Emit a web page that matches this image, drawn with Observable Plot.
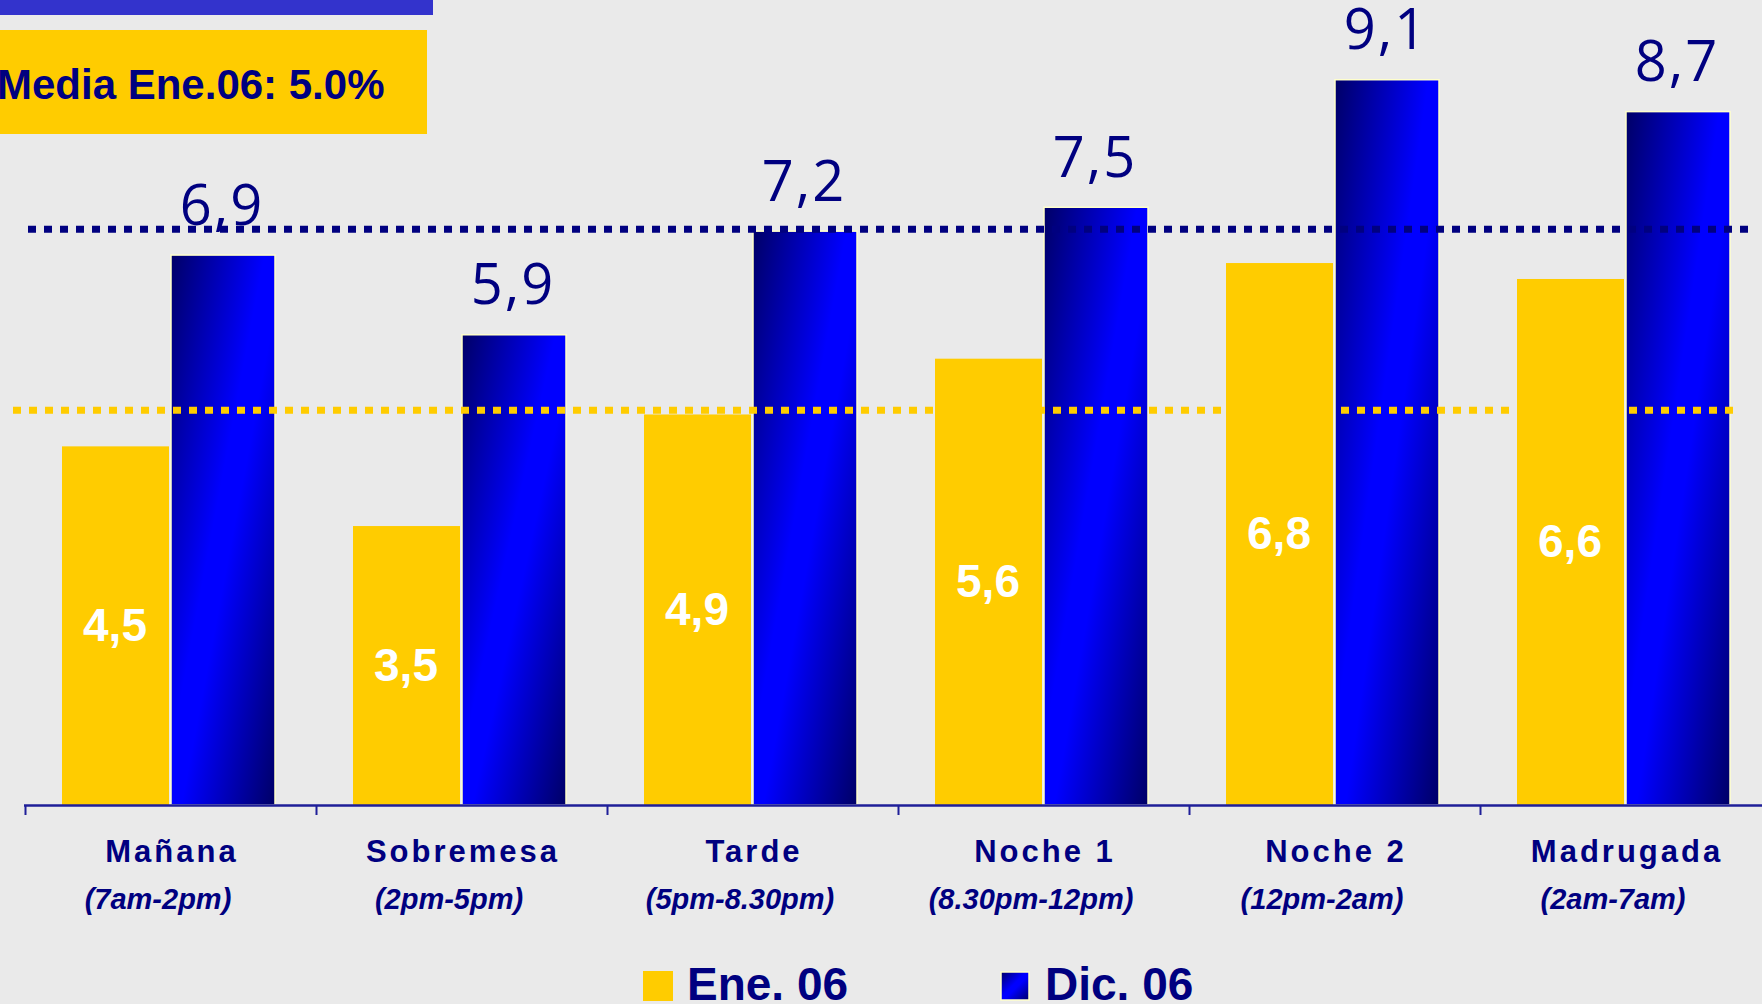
<!DOCTYPE html>
<html><head><meta charset="utf-8">
<script src="https://cdn.jsdelivr.net/npm/d3@7"></script>
<script src="https://cdn.jsdelivr.net/npm/@observablehq/plot@0.6"></script>
<style>
html,body{margin:0;padding:0;background:#EAEAEA;overflow:hidden;}
#chart{position:relative;width:1762px;height:1004px;}
svg{display:block;}
</style></head><body><div id="chart"></div>
<script>
const categories = ["Mañana", "Sobremesa", "Tarde", "Noche 1", "Noche 2", "Madrugada"];
const subtitles = ["(7am-2pm)", "(2pm-5pm)", "(5pm-8.30pm)", "(8.30pm-12pm)", "(12pm-2am)", "(2am-7am)"];
const ene06 = [4.5, 3.5, 4.9, 5.6, 6.8, 6.6];
const dic06 = [6.9, 5.9, 7.2, 7.5, 9.1, 8.7];
const mediaEne06 = 4.96;
const mediaDic06 = 7.23;
const seriesNames = ["Ene. 06", "Dic. 06"];

const rows = categories.map((c, i) => ({cat: c, sub: subtitles[i], ene: ene06[i], dic: dic06[i]}));
const fmt = v => d3.format(".1f")(v).replace(".", ",");

const NAVY = "#000080", YELLOW = "#FFCC00", AXIS = "#1F1F99";
const W = 1762, H = 1004, bw = 291;
const BOLD = "'Liberation Sans', Arial, sans-serif";

const svg = Plot.plot({
  width: W, height: H, margin: 0,
  style: {background: "transparent", overflow: "visible"},
  x: {type: "band", domain: categories, range: [25, 25 + 6 * bw], padding: 0, axis: null},
  y: {domain: [0, 10], range: [805, 8], axis: null},
  marks: [
    Plot.barY(rows, {x: "cat", y: "ene", fill: YELLOW, insetLeft: 37, insetRight: 147}),
    Plot.barY(rows, {x: "cat", y: "dic", fill: "url(#gradDic)", stroke: "#FFFFCC", strokeWidth: 1.5, insetLeft: 146, insetRight: 41}),
    Plot.ruleY([mediaEne06], {stroke: YELLOW, strokeWidth: 7, strokeDasharray: "8,8", insetLeft: 13, insetRight: 29}),
    Plot.ruleY([mediaDic06], {stroke: NAVY, strokeWidth: 7, strokeDasharray: "8,8", insetLeft: 28, insetRight: 13}),
    Plot.ruleY([0], {stroke: AXIS, strokeWidth: 2.5, insetLeft: 24}),
    Plot.ruleX(categories, {x: d => d, dx: -bw / 2, y1: 0, y2: 0, insetBottom: -10, stroke: AXIS, strokeWidth: 2}),
    Plot.text(rows, {x: "cat", y: "dic", text: d => fmt(d.dic), dx: 51, dy: -31, lineAnchor: "bottom",
      fill: NAVY, fontSize: 56, fontFamily: "'Open Sans', sans-serif"}),
    Plot.text(rows, {x: "cat", y: d => d.ene / 2, text: d => fmt(d.ene), dx: -56, lineAnchor: "middle",
      fill: "white", fontSize: 46, fontWeight: "bold", fontFamily: BOLD}),
    Plot.text(rows, {x: "cat", y: 0, text: "cat", dy: 56, dx: 1, lineAnchor: "bottom", fill: NAVY,
      fontSize: 31, fontWeight: "bold", fontFamily: BOLD}),
    Plot.text(rows, {x: "cat", y: 0, text: "sub", dy: 103, dx: -13, lineAnchor: "bottom", fill: NAVY,
      fontSize: 29, fontWeight: "bold", fontStyle: "italic", fontFamily: BOLD})
  ]
});

const s = d3.select(svg);
s.insert("defs", ":first-child").html(`
  <linearGradient id="gradDic" x1="0" y1="0" x2="1" y2="1">
    <stop offset="0" stop-color="#000066"/>
    <stop offset="0.45" stop-color="#0000FF"/>
    <stop offset="0.55" stop-color="#0000FF"/>
    <stop offset="1" stop-color="#000066"/>
  </linearGradient>`);
s.selectAll("text").filter(function() { return categories.includes(this.textContent); })
  .attr("letter-spacing", 3);
s.selectAll("text").filter(function() {
  const g = this.parentNode;
  return /^\d,\d$/.test(this.textContent) && g.getAttribute("fill") !== "white";
}).attr("letter-spacing", 2);

// header decorations
const ann = s.append("g").attr("text-anchor", "start");
ann.append("rect").attr("x", 0).attr("y", 0).attr("width", 433).attr("height", 15).attr("fill", "#3333CC");
ann.append("rect").attr("x", 0).attr("y", 30).attr("width", 427).attr("height", 104).attr("fill", YELLOW);
ann.append("text").attr("x", -3).attr("y", 99).attr("fill", NAVY).attr("font-family", BOLD)
  .attr("font-weight", "bold").attr("font-size", 42).text(`Media Ene.06: ${mediaEne06.toFixed(1)}%`);

// legend
const lg = s.append("g").attr("text-anchor", "start");
lg.append("rect").attr("x", 643).attr("y", 971).attr("width", 30).attr("height", 30).attr("fill", YELLOW);
lg.append("text").attr("x", 687).attr("y", 1000).attr("fill", NAVY).attr("font-family", BOLD)
  .attr("font-weight", "bold").attr("font-size", 46).text(seriesNames[0]);
lg.append("rect").attr("x", 1001).attr("y", 972).attr("width", 28).attr("height", 28)
  .attr("fill", "url(#gradDic)").attr("stroke", "#FFFFCC").attr("stroke-width", 1.5);
lg.append("text").attr("x", 1045).attr("y", 1000).attr("fill", NAVY).attr("font-family", BOLD)
  .attr("font-weight", "bold").attr("font-size", 46).text(seriesNames[1]);

document.getElementById("chart").appendChild(svg);
</script></body></html>
